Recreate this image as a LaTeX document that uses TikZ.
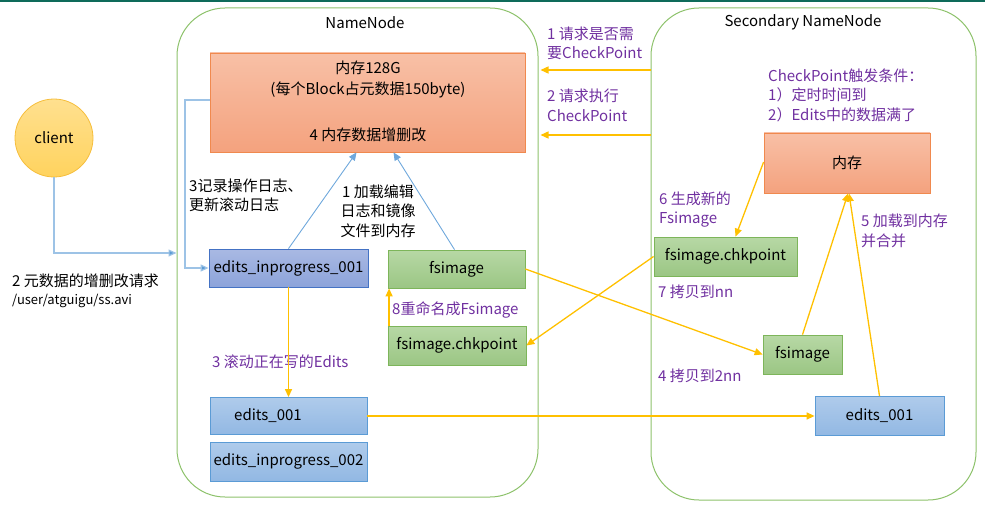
\documentclass[tikz,border=0pt]{standalone}
\usepackage{fontspec}
\setmainfont{Noto Sans CJK SC}
\usetikzlibrary{arrows.meta}
\definecolor{topbar}{HTML}{0E6B5A}
\definecolor{contgreen}{HTML}{8DC26B}
\definecolor{memtop}{HTML}{F8C0A6}
\definecolor{membot}{HTML}{F4A27E}
\definecolor{memborder}{HTML}{F0894E}
\definecolor{grtop}{HTML}{B7D8A5}
\definecolor{grbot}{HTML}{9BC684}
\definecolor{grborder}{HTML}{7DB55A}
\definecolor{bltop}{HTML}{AFCBEB}
\definecolor{blbot}{HTML}{92B8E3}
\definecolor{blborder}{HTML}{5B9BD5}
\definecolor{dbtop}{HTML}{A9B9E3}
\definecolor{dbbot}{HTML}{8CA3DA}
\definecolor{dbborder}{HTML}{4472C4}
\definecolor{cltop}{HTML}{FFE08F}
\definecolor{clbot}{HTML}{FFD35E}
\definecolor{clborder}{HTML}{F6BE3C}
\definecolor{orangeline}{HTML}{FFC000}
\definecolor{blueline}{HTML}{6FA8DC}
\definecolor{lightblueline}{HTML}{9DC3E6}
\definecolor{labelpurple}{HTML}{7030A0}
\begin{document}
\begin{tikzpicture}[x=1pt,y=-1pt,
  every node/.style={font=\fontsize{15}{19.5}\selectfont, inner sep=0pt},
  container/.style={draw=contgreen, line width=1pt, rounded corners=48pt},
  membox/.style={draw=memborder, line width=0.8pt, top color=memtop, bottom color=membot},
  grbox/.style={draw=grborder, line width=0.8pt, top color=grtop, bottom color=grbot},
  blbox/.style={draw=blborder, line width=0.8pt, top color=bltop, bottom color=blbot},
  dbbox/.style={draw=dbborder, line width=0.8pt, top color=dbtop, bottom color=dbbot},
  clientnode/.style={circle, draw=clborder, line width=0.8pt, top color=cltop, bottom color=clbot, minimum size=78pt},
  purplelabel/.style={text=labelpurple, align=left, anchor=west},
  blacklabel/.style={text=black, align=left, anchor=west},
  oarrow/.style={draw=orangeline, line width=1.3pt, -{Triangle[length=8pt,width=7pt]}},
  barrow/.style={draw=blueline, line width=0.9pt, -{Triangle[length=8pt,width=7pt]}},
  lbarrow/.style={draw=lightblueline, line width=1.2pt, -{Triangle[length=8pt,width=7pt,fill=blborder]}}
]
\useasboundingbox (0,0) rectangle (985,516);
\fill[topbar] (0,0) rectangle (985,2.5);

% containers
\node[container, minimum width=361pt, minimum height=489pt] (nn) at (357.5,252.5) {};
\node[container, minimum width=325pt, minimum height=492pt] (snn) at (813.5,254) {};
\node (nntitle) at (365,23) {NameNode};
\node (snntitle) at (803,22.5) {Secondary NameNode};

% NameNode contents
\node[membox, minimum width=315pt, minimum height=99pt] (mem) at (367.5,102.5) {};
\node (memta) at (368,68) {内存128G};
\node (memtb) at (368,90) {(每个Block占元数据150byte)};
\node (memtc) at (368,135) {4 内存数据增删改};

\node[dbbox, minimum width=159pt, minimum height=38pt] (edin1) at (288.5,268) {edits\_inprogress\_001};
\node[grbox, minimum width=137pt, minimum height=38pt] (fs1) at (456.5,269) {fsimage};
\node[grbox, minimum width=138pt, minimum height=39pt] (chk1) at (457,345.5) {fsimage.chkpoint};
\node[blbox, minimum width=157pt, minimum height=37pt] (ed1) at (288.5,416) {};
\node (ed1t) at (268,416) {edits\_001};
\node[blbox, minimum width=157pt, minimum height=39pt] (edin2) at (288.5,461.5) {edits\_inprogress\_002};

% client
\node[clientnode] (client) at (54,138) {client};
\coordinate (clcorner) at (54,253);
\coordinate (fbleft) at (185,100);

% Secondary NameNode contents
\node[membox, minimum width=166pt, minimum height=60pt] (mem2) at (847,163) {内存};
\node[grbox, minimum width=143pt, minimum height=39pt] (chk2) at (725.5,256.5) {fsimage.chkpoint};
\node[grbox, minimum width=79pt, minimum height=39pt] (fs2) at (802.5,354.5) {fsimage};
\node[blbox, minimum width=129pt, minimum height=39pt] (ed2) at (879.5,416) {edits\_001};

% labels
\node[blacklabel] (l3) at (189,195.5) {3记录操作日志、\\更新滚动日志};
\node[text=black, align=center] (l1) at (378,211) {1 加载编辑\\日志和镜像\\文件到内存};
\node[blacklabel] (l2a) at (12,281) {2 元数据的增删改请求};
\node[blacklabel, font=\fontsize{13}{16}\selectfont] (l2b) at (12,301) {/user/atguigu/ss.avi};
\node[purplelabel] (lr1) at (547,43.5) {1 请求是否需\\要CheckPoint};
\node[purplelabel] (lr2) at (547,105.5) {2 请求执行\\CheckPoint};
\node[purplelabel] (lcond) at (768,95) {CheckPoint触发条件：\\1）定时时间到\\2）Edits中的数据满了};
\node[purplelabel] (l6) at (659,209.5) {6 生成新的\\Fsimage};
\node[purplelabel] (l5) at (861,231) {5 加载到内存\\并合并};
\node[purplelabel] (l7) at (658,292) {7 拷贝到nn};
\node[purplelabel] (l4) at (658,376) {4 拷贝到2nn};
\node[purplelabel] (l3b) at (212,361.5) {3 滚动正在写的Edits};
\node[purplelabel] (l8) at (392,309.5) {8重命名成Fsimage};

% connectors
\draw[lbarrow] (client.south) -- (clcorner) -- (nn.west |- clcorner);
\draw[lbarrow] (mem.west |- fbleft) -- (fbleft) -- (fbleft |- edin1.west) -- (edin1.west);
\draw[barrow] (edin1.north) -- ([xshift=-11pt]mem.south);
\draw[barrow] ([xshift=-2pt]fs1.north) -- ([xshift=26pt]mem.south);
\draw[oarrow] (edin1.south) -- (edin1.south |- ed1.north);
\draw[oarrow] ([xshift=1.5pt]chk1.north west) -- ([xshift=1.5pt]fs1.south west);
\draw[oarrow] (snn.west |- 0,70) -- ([xshift=2pt]nn.east |- 0,70);
\draw[oarrow] (snn.west |- 0,135) -- ([xshift=2pt]nn.east |- 0,135);
\draw[oarrow] ([yshift=1pt]mem2.west) -- ([xshift=10pt]chk2.north);
\draw[oarrow] (fs1.east) -- (fs2.west);
\draw[oarrow] (chk2.west) -- (chk1.east);
\draw[oarrow] (ed1.east) -- (ed2.west);
\draw[oarrow] (fs2.north) -- ([xshift=1pt]mem2.south);
\draw[oarrow] (ed2.north) -- ([xshift=2pt]mem2.south);
\end{tikzpicture}
\end{document}
